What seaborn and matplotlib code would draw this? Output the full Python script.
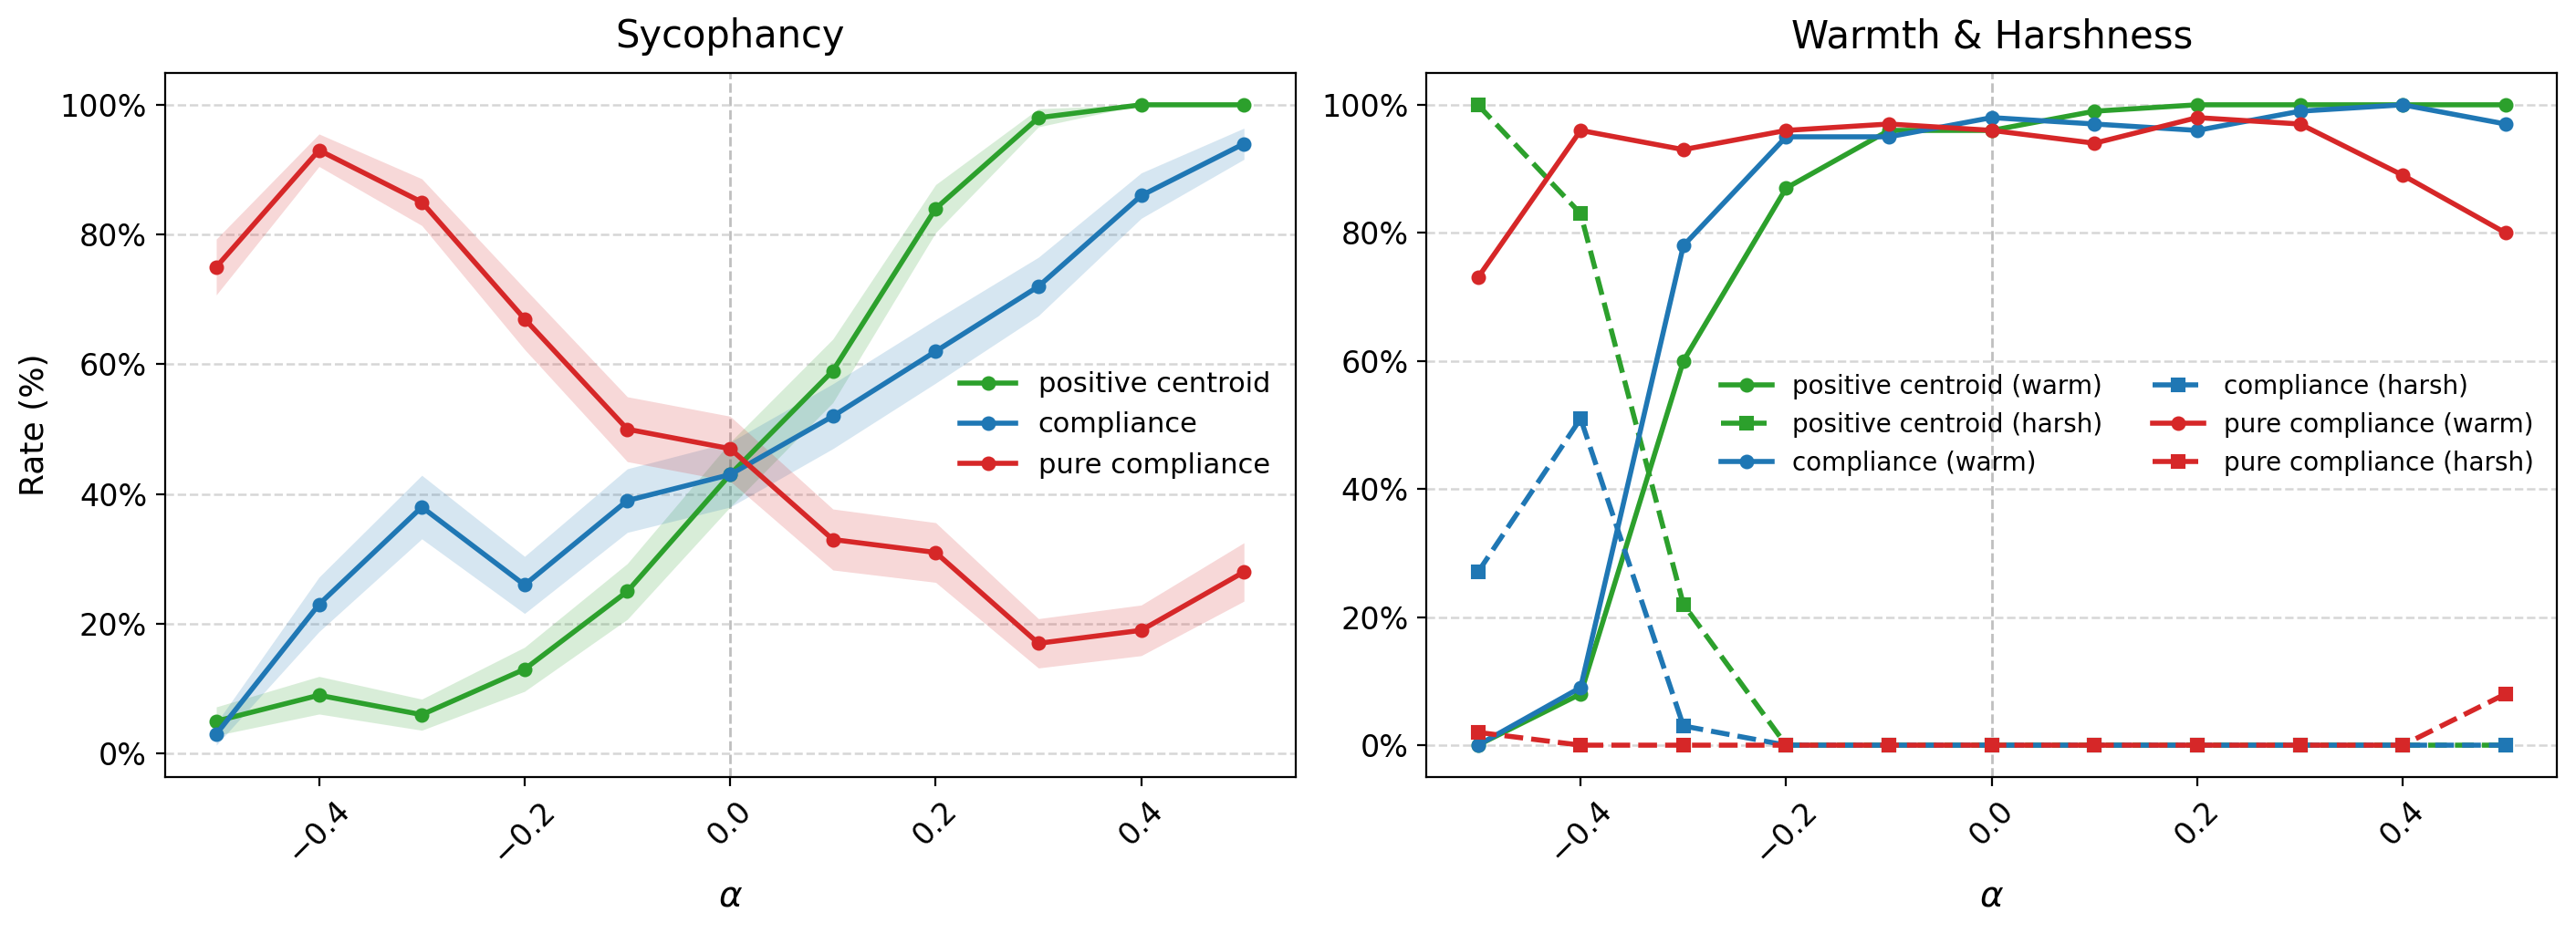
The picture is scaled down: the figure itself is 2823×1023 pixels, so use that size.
import matplotlib
matplotlib.use("Agg")
import matplotlib.pyplot as plt
from matplotlib.ticker import PercentFormatter, MultipleLocator
import numpy as np
import seaborn as sns

# steering strength
alpha = [-0.5, -0.4, -0.3, -0.2, -0.1, 0.0, 0.1, 0.2, 0.3, 0.4, 0.5]

syc_pos = [5, 9, 6, 13, 25, 43, 59, 84, 98, 100, 100]
syc_pos_se = [2.2, 2.9, 2.4, 3.4, 4.3, 5.0, 4.9, 3.7, 1.4, 0.0, 0.0]
syc_comp = [3, 23, 38, 26, 39, 43, 52, 62, 72, 86, 94]
syc_comp_se = [1.7, 4.2, 4.9, 4.4, 4.9, 5.0, 5.0, 4.9, 4.5, 3.5, 2.4]
syc_pure = [75, 93, 85, 67, 50, 47, 33, 31, 17, 19, 28]
syc_pure_se = [4.3, 2.5, 3.6, 4.7, 5.0, 5.0, 4.7, 4.6, 3.8, 3.9, 4.5]

# Warmth & Harshness
pos_warm = [0, 8, 60, 87, 96, 96, 99, 100, 100, 100, 100]
pos_harsh = [100, 83, 22, 0, 0, 0, 0, 0, 0, 0, 0]
comp_warm = [0, 9, 78, 95, 95, 98, 97, 96, 99, 100, 97]
comp_harsh = [27, 51, 3, 0, 0, 0, 0, 0, 0, 0, 0]
pure_warm = [73, 96, 93, 96, 97, 96, 94, 98, 97, 89, 80]
pure_harsh = [2, 0, 0, 0, 0, 0, 0, 0, 0, 0, 8]

GREEN, BLUE, RED = "#2ca02c", "#1f77b4", "#d62728"

fig, axes = plt.subplots(1, 2, figsize=(2823 / 200, 1023 / 200), dpi=200)
fig.subplots_adjust(left=0.064, right=0.9926, bottom=0.167, top=0.922, wspace=0.116)

# --- left panel: sycophancy with shaded error bands
ax = axes[0]
x = np.array(alpha)
for vals, se, col, lab in [(syc_pos, syc_pos_se, GREEN, "positive centroid"),
                           (syc_comp, syc_comp_se, BLUE, "compliance"),
                           (syc_pure, syc_pure_se, RED, "pure compliance")]:
    v = np.array(vals, dtype=float)
    s = np.array(se)
    sns.lineplot(x=x, y=v, ax=ax, color=col, marker="o", markersize=5,
                 markeredgecolor=col, linewidth=2, label=lab)
    ax.fill_between(x, v - s, v + s, color=col, alpha=0.18, linewidth=0)
ax.set_title("Sycophancy", fontsize=15, pad=10)
ax.set_ylabel("Rate (%)", fontsize=13)
ax.legend(loc="center right", frameon=False, fontsize=11)

# --- right panel: warmth / harshness
ax = axes[1]
series = [(pos_warm, GREEN, "o", "-", "positive centroid (warm)"),
          (pos_harsh, GREEN, "s", "--", "positive centroid (harsh)"),
          (comp_warm, BLUE, "o", "-", "compliance (warm)"),
          (comp_harsh, BLUE, "s", "--", "compliance (harsh)"),
          (pure_warm, RED, "o", "-", "pure compliance (warm)"),
          (pure_harsh, RED, "s", "--", "pure compliance (harsh)")]
for vals, col, mk, ls, lab in series:
    sns.lineplot(x=x, y=vals, ax=ax, color=col, marker=mk, markersize=5,
                 markeredgecolor=col, linewidth=2, linestyle=ls, label=lab)
ax.set_title("Warmth & Harshness", fontsize=15, pad=10)
ax.set_ylabel("")
ax.legend(loc="center right", frameon=False, fontsize=10, ncol=2)

for ax in axes:
    ax.axvline(0, color="gray", linestyle="--", linewidth=1, alpha=0.5, zorder=0)
    ax.grid(axis="y", linestyle="--", color="#cccccc", linewidth=0.9, alpha=0.8)
    ax.set_axisbelow(True)
    ax.yaxis.set_major_locator(MultipleLocator(20))
    ax.yaxis.set_major_formatter(PercentFormatter(decimals=0))
    ax.set_xlabel(r"$\alpha$", fontsize=14)
    ax.tick_params(axis="both", labelsize=12)
    ax.tick_params(axis="x", labelrotation=45)
    ax.set_xticks([-0.4, -0.2, 0.0, 0.2, 0.4])
    ax.set_xticklabels(["\u22120.4", "\u22120.2", "0.0", "0.2", "0.4"])

fig.savefig("out.png", dpi=200)
